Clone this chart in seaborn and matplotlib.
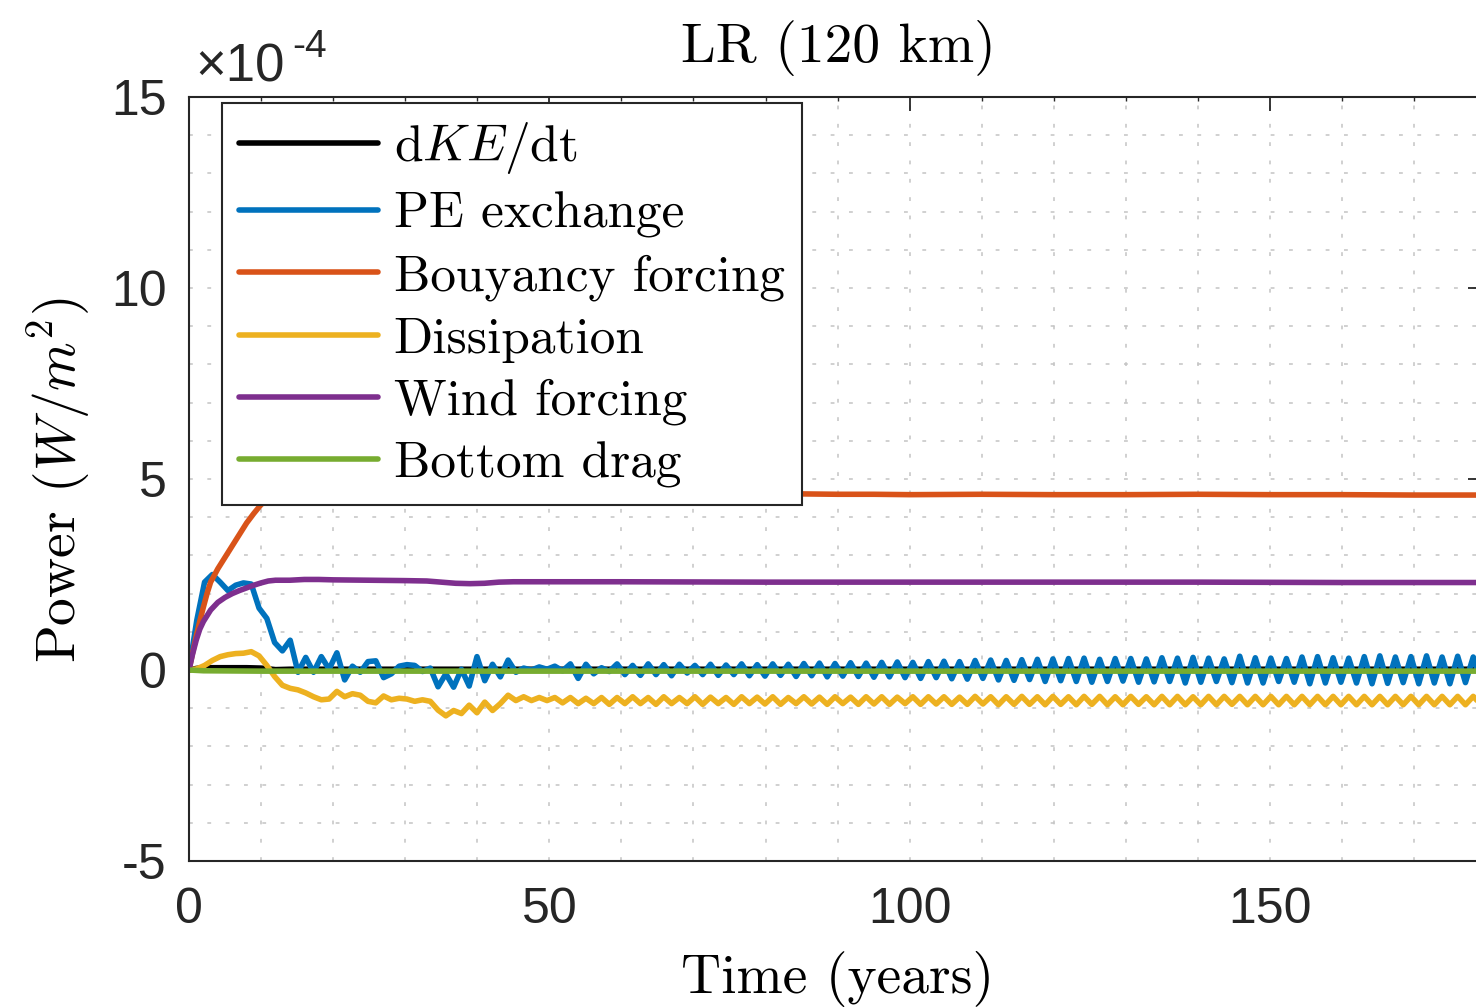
import numpy as np
import pandas as pd
import matplotlib
matplotlib.use("Agg")
import matplotlib.pyplot as plt
from matplotlib.ticker import MultipleLocator, FixedLocator
import seaborn as sns

# ---------------- data (power in units of 1e-4 W/m^2) ----------------
SERIES = ["dKE/dt", "PE exchange", "Bouyancy forcing", "Dissipation",
          "Wind forcing", "Bottom drag"]
LABELS = [r"$\mathrm{d}KE/\mathrm{dt}$", "PE exchange", "Bouyancy forcing",
          "Dissipation", "Wind forcing", "Bottom drag"]
COLORS = ["#000000", "#0072BD", "#D95319", "#EDB120", "#7E2F8E", "#77AC30"]

SAMPLE_STEP = 1.08  # years between samples of the oscillating diagnostics

PE_EXCHANGE = [
    0.00, 1.30, 2.30, 2.50, 2.30, 2.08, 2.22, 2.28, 2.25, 1.62,
    1.35, 0.72, 0.50, 0.78, -0.06, 0.33, -0.06, 0.35, 0.02, 0.45,
    -0.26, 0.10, -0.06, 0.22, 0.24, -0.20, -0.10, 0.10, 0.14, 0.12,
    -0.04, 0.05, -0.44, -0.10, -0.45, 0.02, -0.42, 0.35, -0.28, 0.15,
    -0.18, 0.26, -0.06, 0.05, 0.00, 0.08, 0.02,
    0.10, -0.02, 0.16, -0.22, 0.15, -0.10, 0.06, -0.04, 0.16, -0.12,
    0.12, -0.14, 0.16, -0.12, 0.14, -0.15, 0.15, -0.08, 0.12, -0.12,
    0.15, -0.14, 0.13, -0.12, 0.16, -0.15, 0.14, -0.16, 0.16, -0.14,
    0.15, -0.17, 0.17, -0.15, 0.18, -0.18, 0.17, -0.16, 0.19, -0.17,
    0.18, -0.19, 0.20, -0.18, 0.21, -0.20, 0.20, -0.22, 0.22, -0.20,
    0.23, -0.23, 0.22, -0.24, 0.25, -0.22, 0.26, -0.26, 0.25, -0.27,
    0.27, -0.25, 0.28, -0.30, 0.29, -0.28, 0.30, -0.30, 0.31, -0.32,
    0.28, -0.30, 0.30, -0.29, 0.30, -0.32, 0.29, -0.31, 0.32, -0.30,
    0.31, -0.34, 0.33, -0.32, 0.31, -0.30, 0.29, -0.33, 0.36, -0.34,
    0.32, -0.34, 0.31, -0.30, 0.30, -0.32, 0.34, -0.36, 0.35, -0.34,
    0.32, -0.32, 0.31, -0.34, 0.35, -0.36, 0.37, -0.35, 0.34, -0.33,
    0.35, -0.36, 0.37, -0.34, 0.34, -0.36, 0.36, -0.33, 0.34, -0.32,
    0.33,
]

DISSIPATION = [
    0.00, 0.03, 0.12, 0.25, 0.35, 0.40, 0.43, 0.44, 0.48, 0.37,
    0.12, -0.17, -0.40, -0.48, -0.52, -0.60, -0.70, -0.78, -0.76, -0.56,
    -0.70, -0.62, -0.66, -0.82, -0.86, -0.68, -0.78, -0.74, -0.76, -0.82,
    -0.78, -0.82, -1.05, -1.20, -1.06, -1.14, -0.92, -1.12, -0.84, -1.06,
    -0.88, -0.66, -0.80, -0.70, -0.80, -0.72, -0.80,
    -0.72, -0.86, -0.72, -0.88, -0.74, -0.88, -0.72, -0.90, -0.72, -0.88,
    -0.70, -0.88, -0.72, -0.90, -0.70, -0.88, -0.72, -0.88, -0.70, -0.90,
    -0.71, -0.88, -0.72, -0.90, -0.70, -0.88, -0.71, -0.89, -0.70, -0.90,
    -0.72, -0.88, -0.70, -0.89, -0.71, -0.90, -0.70, -0.88, -0.71, -0.90,
    -0.70, -0.89, -0.70, -0.90, -0.71, -0.88, -0.70, -0.90, -0.70, -0.89,
    -0.70, -0.90, -0.71, -0.90, -0.69, -0.89, -0.70, -0.91, -0.70, -0.90,
    -0.69, -0.90, -0.70, -0.91, -0.69, -0.90, -0.70, -0.91, -0.69, -0.90,
    -0.69, -0.91, -0.70, -0.91, -0.69, -0.90, -0.70, -0.91, -0.69, -0.91,
    -0.69, -0.91, -0.70, -0.91, -0.69, -0.91, -0.69, -0.90, -0.69, -0.91,
    -0.69, -0.91, -0.69, -0.91, -0.69, -0.91, -0.69, -0.91, -0.69, -0.91,
    -0.69, -0.91, -0.69, -0.91, -0.69, -0.91, -0.69, -0.91, -0.69, -0.91,
    -0.69, -0.91, -0.69, -0.91, -0.69, -0.91, -0.69, -0.91, -0.69, -0.91,
    -0.69,
]

YEARS_BUOY = [0, 0.5, 1, 1.5, 2, 2.5, 3, 4, 5, 6, 7, 8, 9, 10, 11, 12, 14, 16,
              18, 20, 25, 30, 40, 50, 60, 70, 80, 85, 90, 95, 100, 110, 120,
              130, 140, 150, 160, 170, 181]
BUOYANCY = [0, 0.45, 0.88, 1.28, 1.65, 2.0, 2.3, 2.65, 2.95, 3.25, 3.55, 3.85,
            4.1, 4.33, 4.48, 4.57, 4.65, 4.68, 4.68, 4.67, 4.65, 4.63, 4.62,
            4.61, 4.60, 4.60, 4.60, 4.61, 4.60, 4.60, 4.59, 4.60, 4.59, 4.59,
            4.60, 4.59, 4.59, 4.58, 4.58]

YEARS_WIND = [0, 0.5, 1, 1.5, 2, 3, 4, 5, 6, 7, 8, 9, 10, 11, 12, 14, 16, 18,
              20, 25, 30, 33, 35, 37, 39, 41, 43, 45, 50, 60, 80, 100, 120,
              140, 160, 181]
WIND = [0, 0.42, 0.78, 1.07, 1.27, 1.57, 1.77, 1.90, 2.00, 2.08, 2.15, 2.22,
        2.28, 2.33, 2.35, 2.35, 2.37, 2.37, 2.36, 2.35, 2.34, 2.33, 2.30, 2.27,
        2.26, 2.27, 2.30, 2.31, 2.31, 2.31, 2.30, 2.30, 2.30, 2.30, 2.29, 2.29]

YEARS_KE = [0, 1, 2, 3, 5, 8, 10, 11, 12, 14, 20, 40, 80, 120, 181]
DKE_DT = [0, 0.04, 0.06, 0.06, 0.06, 0.06, 0.05, 0.03, 0.01, 0.02, 0.02, 0.02,
          0.02, 0.02, 0.02]

YEARS_DRAG = [0, 2, 10, 181]
DRAG = [0, -0.02, -0.03, -0.03]

X_TICKS = [0, 50, 100, 150]
Y_TICKS = [-5, 0, 5, 10, 15]

# ---------------- build long-form table ----------------
years_pe = np.arange(len(PE_EXCHANGE)) * SAMPLE_STEP
years_diss = np.arange(len(DISSIPATION)) * SAMPLE_STEP
parts = [
    (SERIES[0], YEARS_KE, DKE_DT),
    (SERIES[1], years_pe, PE_EXCHANGE),
    (SERIES[2], YEARS_BUOY, BUOYANCY),
    (SERIES[3], years_diss, DISSIPATION),
    (SERIES[4], YEARS_WIND, WIND),
    (SERIES[5], YEARS_DRAG, DRAG),
]
df = pd.concat([pd.DataFrame({"time": np.asarray(t, float),
                              "power": np.asarray(v, float),
                              "series": n}) for n, t, v in parts],
               ignore_index=True)

# ---------------- style ----------------
sns.set_theme(style="white")
plt.rcParams["font.family"] = ["Liberation Sans", "DejaVu Sans"]
plt.rcParams["mathtext.fontset"] = "cm"
plt.rcParams["axes.unicode_minus"] = False

W, H = 1476, 1008
fig = plt.figure(figsize=(W / 100, H / 100), dpi=100)
fig.patch.set_facecolor("white")
AX_L, AX_R, AX_T, AX_B = 189, 1482, 97, 861
ax = fig.add_axes([AX_L / W, 1 - AX_B / H, (AX_R - AX_L) / W, (AX_B - AX_T) / H])

LW = 4.0
sns.lineplot(data=df, x="time", y="power", hue="series", hue_order=SERIES,
             palette=dict(zip(SERIES, COLORS)), estimator=None, sort=True,
             linewidth=LW, legend=False, ax=ax)
for ln in ax.get_lines():
    ln.set_linewidth(LW)
    ln.set_solid_joinstyle("round")
    ln.set_solid_capstyle("round")

ax.set_xlim(0, (AX_R - AX_L) / ((1270 - 189) / 150))
ax.set_ylim(-5, 15)
ax.xaxis.set_major_locator(FixedLocator(X_TICKS))
ax.yaxis.set_major_locator(FixedLocator(Y_TICKS))
ax.set_xticklabels([str(v) for v in X_TICKS])
ax.set_yticklabels([str(v) for v in Y_TICKS])
ax.xaxis.set_minor_locator(MultipleLocator(10))
ax.yaxis.set_minor_locator(MultipleLocator(1))
ax.set_xlabel("")
ax.set_ylabel("")

ax.set_axisbelow(True)
ax.grid(which="both", color="#c4c4c4", linewidth=1.1, linestyle=(0, (2.5, 9.5)))

for sp in ax.spines.values():
    sp.set_visible(True)
    sp.set_color("#262626")
    sp.set_linewidth(1.5)

ax.tick_params(which="major", direction="in", length=10, width=1.3,
               top=True, right=True, colors="#262626", labelsize=36)
ax.tick_params(which="minor", direction="in", length=3, width=1.0,
               top=True, right=True, colors="#262626")
ax.tick_params(axis="x", which="major", pad=19)
ax.tick_params(axis="y", which="major", pad=16)

# legend
handles = ax.get_lines()[:len(SERIES)]
leg = ax.legend(handles, LABELS, loc="upper left",
                bbox_to_anchor=((222 - AX_L) / (AX_R - AX_L), (AX_B - 103) / (AX_B - AX_T)),
                borderaxespad=0, prop={"family": "cmr10", "size": 37},
                handlelength=2.7, handletextpad=0.31, labelspacing=0.31,
                borderpad=0.33, frameon=True, fancybox=False,
                edgecolor="#262626", framealpha=1)
leg.get_frame().set_linewidth(1.5)
for txt in leg.get_texts():
    txt.set_color("black")

# title, axis labels, exponent
fig.text(838 / W, 1 - 62 / H, "LR (120 km)", family="cmr10", fontsize=40,
         ha="center", va="baseline", color="black")
fig.text(838 / W, 1 - 993 / H, "Time (years)", family="cmr10", fontsize=40,
         ha="center", va="baseline", color="black")
fig.text(76 / W, 1 - 480 / H, r"Power $(W/m^2)$", family="cmr10", fontsize=40,
         rotation=90, rotation_mode="anchor", ha="center", va="baseline",
         color="black")
fig.text(195 / W, 1 - 82 / H, "\u00d710", fontsize=38, ha="left",
         va="baseline", color="#262626")
fig.text(292 / W, 1 - 57 / H, "-4", fontsize=28, ha="left",
         va="baseline", color="#262626")

fig.savefig("out.png", dpi=100, facecolor="white")
